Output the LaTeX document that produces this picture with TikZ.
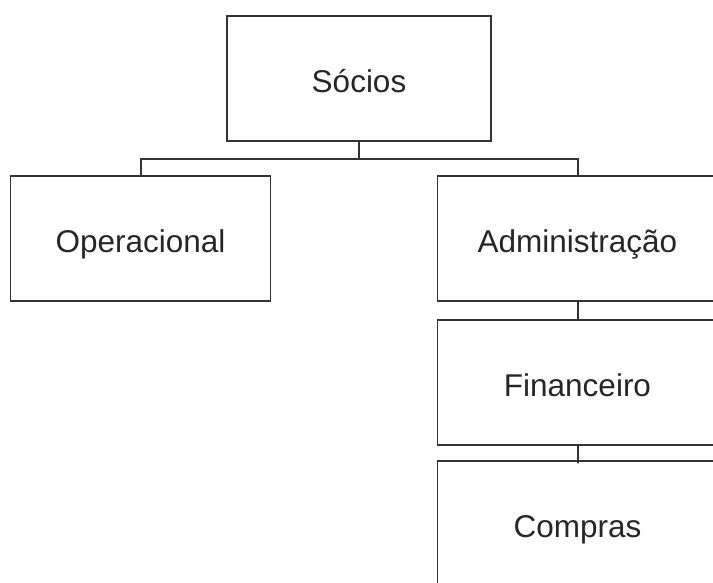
\documentclass[tikz,border=0pt]{standalone}
\usepackage{fontspec}
\setmainfont{Liberation Sans}
\usetikzlibrary{trees}

\begin{document}
\begin{tikzpicture}[%
      x=1pt, y=1pt, line width=2pt, draw=black!80,
      every node/.style={draw=black!80, line width=1.9pt, anchor=center,
                         minimum height=125pt, text=black!85,
                         text height=27.5pt, text depth=0pt,
                         font={\fontsize{31.5}{36}\selectfont}},
      edge from parent/.style={draw=black!80, line width=2pt},
      root/.style={minimum width=264pt},
      unit/.style={minimum width=260pt},
      dept/.style={minimum width=280pt},
      level 1/.style={level distance=160pt, sibling distance=437pt},
      level 2/.style={level distance=144pt},
      level 3/.style={level distance=141pt},
      edge from parent path={(\tikzparentnode.south) -- ++(0,-17.5)
                             -| (\tikzchildnode.north)}
    ]
    \path[use as bounding box, clip] (0,0) rectangle (713,-583);
    \node [root] (socios) at (359,-78.5) {Sócios}
     child { node [unit] (operacional) {Operacional} }
     child { node [dept] (admin) {Administração}
       child { node [dept] (financeiro) {Financeiro}
         child { node [dept] (compras) {Compras} } } };
   \end{tikzpicture}
\end{document}
